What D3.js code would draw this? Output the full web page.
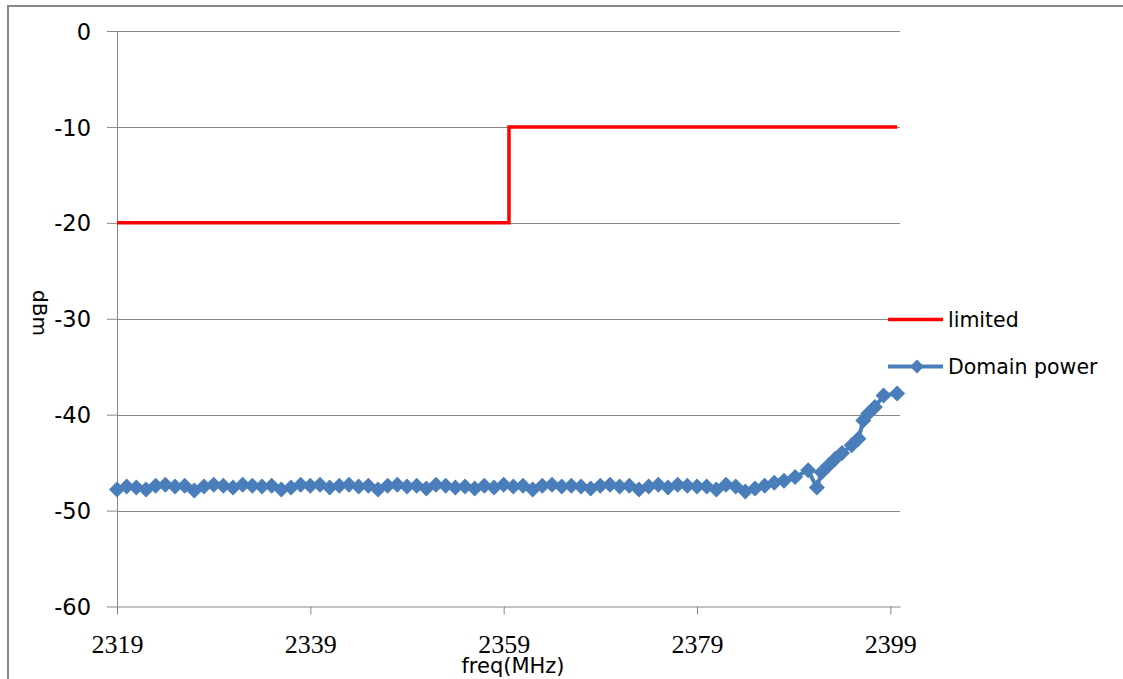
<!DOCTYPE html>
<html>
<head>
<meta charset="utf-8">
<script src="https://cdn.jsdelivr.net/npm/d3@7"></script>
<style>
  html, body { margin: 0; padding: 0; background: #fff; }
  svg { display: block; }
</style>
</head>
<body>
<svg id="chart" width="1123" height="679"></svg>
<script>
// ---- data ----
const xTicks = [2319, 2339, 2359, 2379, 2399];
const yTicks = [0, -10, -20, -30, -40, -50, -60];

const limitFreq = [2319, 2359.55, 2359.55, 2399.7];
const limitVal  = [-20, -20, -10, -10];

const powerFreq = [
  2319, 2320, 2321, 2322, 2323, 2324, 2325, 2326, 2327, 2328,
  2329, 2330, 2331, 2332, 2333, 2334, 2335, 2336, 2337, 2338,
  2339, 2340, 2341, 2342, 2343, 2344, 2345, 2346, 2347, 2348,
  2349, 2350, 2351, 2352, 2353, 2354, 2355, 2356, 2357, 2358,
  2359, 2360, 2361, 2362, 2363, 2364, 2365, 2366, 2367, 2368,
  2369, 2370, 2371, 2372, 2373, 2374, 2375, 2376, 2377, 2378,
  2379, 2380, 2381, 2382, 2383, 2384, 2385, 2386, 2387, 2388,
  2389.15, 2390.5, 2391.4, 2391.9, 2392.6, 2393.3, 2394.0, 2395.0, 2395.7, 2396.2,
  2396.7, 2397.4, 2398.3, 2399.7
];
const powerVal = [
  -47.8, -47.5, -47.6, -47.8, -47.4, -47.3, -47.5, -47.4, -47.9, -47.5,
  -47.3, -47.4, -47.6, -47.3, -47.4, -47.5, -47.4, -47.8, -47.6, -47.3,
  -47.4, -47.3, -47.6, -47.4, -47.3, -47.5, -47.4, -47.8, -47.4, -47.3,
  -47.5, -47.4, -47.7, -47.3, -47.4, -47.6, -47.5, -47.7, -47.4, -47.6,
  -47.3, -47.5, -47.4, -47.8, -47.4, -47.3, -47.5, -47.4, -47.5, -47.7,
  -47.4, -47.3, -47.5, -47.4, -47.8, -47.5, -47.3, -47.6, -47.3, -47.4,
  -47.5, -47.5, -47.8, -47.3, -47.5, -48.0, -47.7, -47.4, -47.1, -46.9,
  -46.5, -45.8, -47.6, -46.0, -45.3, -44.6, -44.0, -43.2, -42.5, -40.6,
  -39.9, -39.2, -38.0, -37.8
];

const seriesNames = ["limited", "Domain power"];
const xTitle = "freq(MHz)";
const yTitle = "dBm";

// ---- layout ----
const svg = d3.select("#chart");
const gridColor = "#868686";
const blue = "#4A7EBB";
const red = "#FF0000";

const x = d3.scaleLinear().domain([2319, 2400]).range([117, 900]);
const y = d3.scaleLinear().domain([-60, 0]).range([606.5, 31]);

// outer frame
svg.append("path")
  .attr("d", "M8,679 L8,6 L1123,6")
  .attr("fill", "none").attr("stroke", "#888").attr("stroke-width", 2);

// horizontal gridlines
svg.append("g").selectAll("line").data(yTicks.filter(d => d !== -60)).join("line")
  .attr("x1", x(2319)).attr("x2", x(2400))
  .attr("y1", d => Math.round(y(d)) + 0.5).attr("y2", d => Math.round(y(d)) + 0.5)
  .attr("stroke", gridColor).attr("stroke-width", 1);

// y axis
const yAxis = svg.append("g")
  .attr("transform", `translate(${x(2319)},0)`)
  .call(d3.axisLeft(y).tickValues(yTicks).tickSize(10).tickPadding(16).tickSizeOuter(0)
        .tickFormat(d => String(d)));
yAxis.select(".domain").attr("stroke", gridColor);
yAxis.selectAll(".tick line").attr("stroke", gridColor);
yAxis.selectAll("text")
  .attr("font-family", "DejaVu Sans").attr("font-size", 22.5).attr("fill", "#000")
  .attr("dy", "0.36em");

// x axis
const xAxis = svg.append("g")
  .attr("transform", `translate(0,${y(-60)})`)
  .call(d3.axisBottom(x).tickValues(xTicks).tickSize(8).tickPadding(20).tickSizeOuter(0)
        .tickFormat(d => String(d)));
xAxis.select(".domain").attr("stroke", gridColor);
xAxis.selectAll(".tick line").attr("stroke", gridColor);
xAxis.selectAll("text")
  .attr("font-family", "Liberation Serif").attr("font-size", 26).attr("fill", "#000");

// limited line
const lineGen = d3.line().x(d => x(d[0])).y(d => y(d[1]));
svg.append("path")
  .datum(limitFreq.map((f, i) => [f, limitVal[i]]))
  .attr("d", lineGen)
  .attr("fill", "none").attr("stroke", red).attr("stroke-width", 3.5);

// domain power line
const pData = powerFreq.map((f, i) => [f, powerVal[i]]);
svg.append("path")
  .datum(pData)
  .attr("d", lineGen)
  .attr("fill", "none").attr("stroke", blue).attr("stroke-width", 4)
  .attr("stroke-linejoin", "round");

const diamond = r => `M0,${-r}L${r},0L0,${r}L${-r},0Z`;
svg.append("g").selectAll("path").data(pData).join("path")
  .attr("transform", d => `translate(${x(d[0])},${y(d[1])})`)
  .attr("d", diamond(8))
  .attr("fill", blue);

// legend
const leg = svg.append("g");
leg.append("line").attr("x1", 888).attr("x2", 943).attr("y1", 319.5).attr("y2", 319.5)
  .attr("stroke", red).attr("stroke-width", 3.5);
leg.append("line").attr("x1", 888).attr("x2", 943).attr("y1", 366.5).attr("y2", 366.5)
  .attr("stroke", blue).attr("stroke-width", 4);
leg.append("path").attr("transform", "translate(917,366.5)").attr("d", diamond(7)).attr("fill", blue);
leg.selectAll("text").data(seriesNames).join("text")
  .attr("x", 948).attr("y", (d, i) => 327 + i * 47)
  .attr("font-family", "DejaVu Sans").attr("font-size", 20.5).attr("fill", "#000")
  .text(d => d);

// axis titles
svg.append("text")
  .attr("transform", "translate(33,313) rotate(90)")
  .attr("text-anchor", "middle")
  .attr("font-family", "DejaVu Sans").attr("font-size", 20).attr("fill", "#000")
  .text(yTitle);
svg.append("text")
  .attr("x", 513).attr("y", 673)
  .attr("text-anchor", "middle")
  .attr("font-family", "DejaVu Sans").attr("font-size", 21).attr("fill", "#000")
  .text(xTitle);
</script>
</body>
</html>
